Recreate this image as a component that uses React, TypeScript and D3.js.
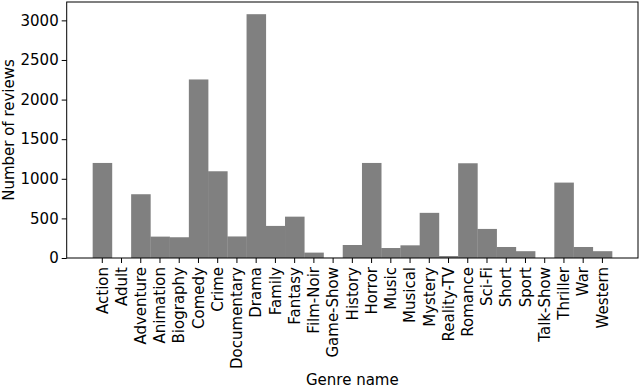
import React, { useEffect, useRef } from 'react';
import * as d3 from 'd3';

const genres = [
  'Action', 'Adult', 'Adventure', 'Animation', 'Biography', 'Comedy', 'Crime',
  'Documentary', 'Drama', 'Family', 'Fantasy', 'Film-Noir', 'Game-Show', 'History',
  'Horror', 'Music', 'Musical', 'Mystery', 'Reality-TV', 'Romance', 'Sci-Fi',
  'Short', 'Sport', 'Talk-Show', 'Thriller', 'War', 'Western',
];
const reviews = [
  1200, 0, 805, 270, 262, 2254, 1095,
  272, 3078, 405, 522, 68, 2, 164,
  1200, 126, 160, 570, 25, 1196, 367,
  139, 86, 0, 952, 139, 86,
];
const yTicks = [0, 500, 1000, 1500, 2000, 2500, 3000];

const FONT = 'DejaVu Sans, sans-serif';
const FS = 15;

const App: React.FC = () => {
  const ref = useRef<SVGSVGElement>(null);

  useEffect(() => {
    const W = 640;
    const H = 386;
    const left = 66.7;
    const right = 638;
    const top = 2;
    const bottom = 258;

    const svg = d3.select(ref.current).attr('width', W).attr('height', H);
    svg.selectAll('*').remove();

    const n = genres.length;
    const pad = 0.05 * n;
    const x = d3.scaleLinear().domain([-0.5 - pad, n - 0.5 + pad]).range([left, right]);
    const ymax = (d3.max(reviews) as number) * 1.05;
    const y = d3.scaleLinear().domain([0, ymax]).range([bottom, top]);

    // bars, width 1 with no gaps
    svg
      .append('g')
      .selectAll('rect')
      .data(reviews)
      .enter()
      .append('rect')
      .attr('x', (_, i) => x(i - 0.5))
      .attr('width', (_, i) => x(i + 0.5) - x(i - 0.5) + 0.3)
      .attr('y', (d) => y(d))
      .attr('height', (d) => bottom - y(d))
      .attr('fill', '#808080');

    // y axis
    const yAxis = svg
      .append('g')
      .attr('transform', `translate(${left},0)`)
      .call(
        d3
          .axisLeft(y)
          .tickValues(yTicks)
          .tickFormat(d3.format('d'))
          .tickSize(5)
          .tickPadding(3)
          .tickSizeOuter(0)
      );
    yAxis.attr('font-family', FONT).attr('font-size', FS);
    yAxis.select('.domain').remove();
    yAxis.selectAll('text').attr('fill', '#000');
    yAxis.selectAll('line').attr('stroke', '#000').attr('stroke-width', 1);

    // x axis with rotated labels
    const xg = svg.append('g').attr('transform', `translate(0,${bottom})`);
    xg.selectAll('line')
      .data(genres)
      .enter()
      .append('line')
      .attr('x1', (_, i) => x(i))
      .attr('x2', (_, i) => x(i))
      .attr('y1', 0)
      .attr('y2', 5)
      .attr('stroke', '#000');
    xg.selectAll('text')
      .data(genres)
      .enter()
      .append('text')
      .attr('transform', (_, i) => `translate(${x(i)},9) rotate(-90)`)
      .attr('text-anchor', 'end')
      .attr('dy', '0.35em')
      .attr('font-family', FONT)
      .attr('font-size', FS)
      .text((d) => d);

    // frame
    svg
      .append('rect')
      .attr('x', left)
      .attr('y', top)
      .attr('width', right - left)
      .attr('height', bottom - top)
      .attr('fill', 'none')
      .attr('stroke', '#000')
      .attr('stroke-width', 1);

    svg
      .append('text')
      .attr('transform', `translate(14,${(top + bottom) / 2}) rotate(-90)`)
      .attr('text-anchor', 'middle')
      .attr('font-family', FONT)
      .attr('font-size', FS)
      .text('Number of reviews');

    svg
      .append('text')
      .attr('x', (left + right) / 2)
      .attr('y', 385)
      .attr('text-anchor', 'middle')
      .attr('font-family', FONT)
      .attr('font-size', FS)
      .text('Genre name');
  }, []);

  return <svg ref={ref} style={{ position: 'absolute', left: 0, top: 0 }} />;
};

export default App;
